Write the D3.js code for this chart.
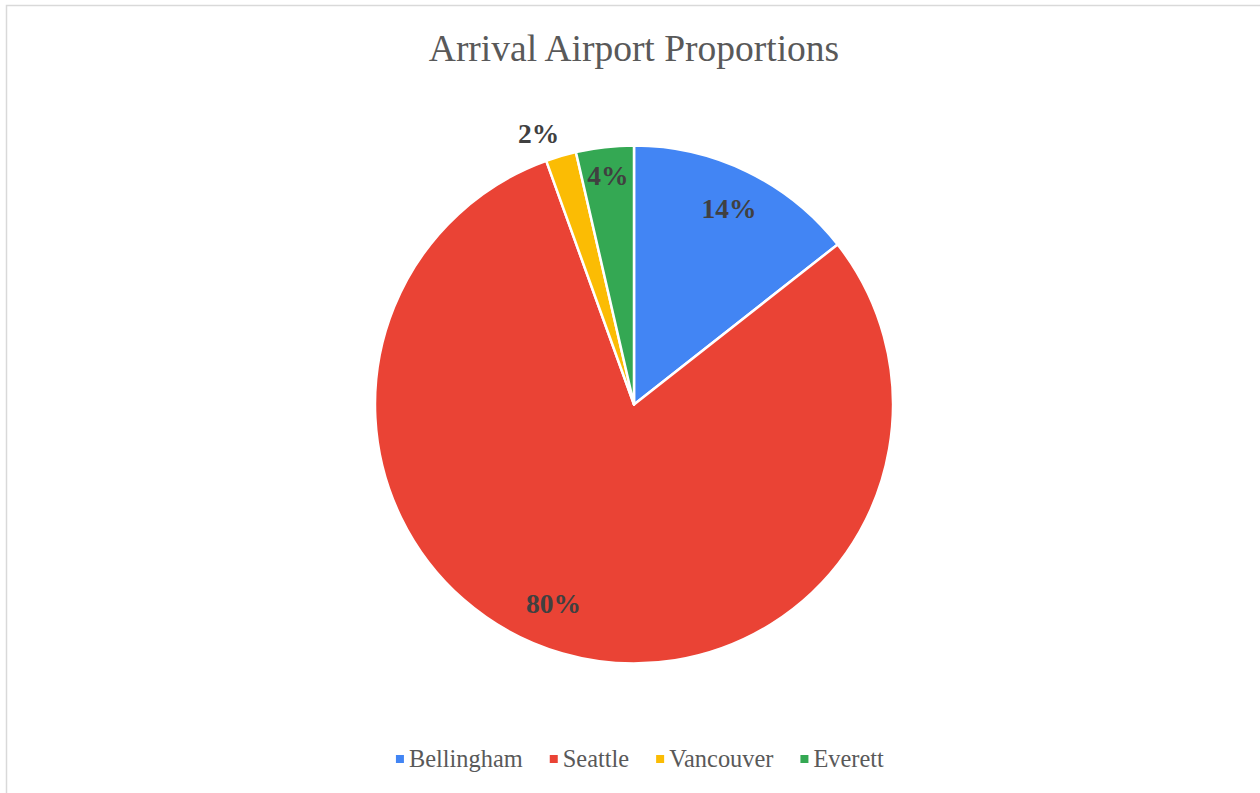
<!DOCTYPE html>
<html>
<head>
<meta charset="utf-8">
<script src="https://cdn.jsdelivr.net/npm/d3@7"></script>
<style>
  html, body { margin: 0; padding: 0; background: #fff; }
  svg { display: block; }
</style>
</head>
<body>
<svg id="chart" width="1260" height="793"></svg>
<script>
// Share of arrivals by airport (percent)
const airports = ["Bellingham", "Seattle", "Vancouver", "Everett"];
const shares = [14.4, 80.1, 1.9, 3.6];
const colors = ["#4285F4", "#EA4335", "#FBBC04", "#34A853"];
const labelText = ["14%", "80%", "2%", "4%"];

const W = 1260, H = 793;
const serif = "'Liberation Serif', 'Times New Roman', Times, serif";
const svg = d3.select("#chart");

// chart area frame
svg.append("rect")
  .attr("x", 6.5).attr("y", 5.5)
  .attr("width", W + 10).attr("height", H + 10)
  .attr("fill", "#fff")
  .attr("stroke", "#d9d9d9").attr("stroke-width", 1.5);

svg.append("text")
  .attr("x", 634).attr("y", 61)
  .attr("text-anchor", "middle")
  .attr("font-family", serif)
  .attr("font-size", 37.5)
  .attr("fill", "#595959")
  .text("Arrival Airport Proportions");

const cx = 634, cy = 404.5, R = 259;
const data = airports.map((name, i) => ({ name, value: shares[i], color: colors[i], label: labelText[i] }));

const pie = d3.pie().value(d => d.value).sort(null);
const arcs = pie(data);
const arc = d3.arc().innerRadius(0).outerRadius(R);

const g = svg.append("g").attr("transform", `translate(${cx},${cy})`);
g.selectAll("path.slice")
  .data(arcs)
  .join("path")
  .attr("class", "slice")
  .attr("d", arc)
  .attr("fill", d => d.data.color)
  .attr("stroke", "#fff")
  .attr("stroke-width", 2.5)
  .attr("stroke-linejoin", "round");

// label placement: radius as fraction of R, small angular nudge (degrees)
const labelRadius = [0.84, 0.83, 1.11, 0.89];
const labelNudge = [0, 6, -3, 0];
g.selectAll("text.val")
  .data(arcs)
  .join("text")
  .attr("class", "val")
  .attr("transform", (d, i) => {
    const a = (d.startAngle + d.endAngle) / 2 + labelNudge[i] * Math.PI / 180;
    const r = R * labelRadius[i];
    return `translate(${r * Math.sin(a)},${-r * Math.cos(a)})`;
  })
  .attr("text-anchor", "middle")
  .attr("dy", "0.35em")
  .attr("font-family", serif)
  .attr("font-weight", "bold")
  .attr("font-size", 27.5)
  .attr("fill", "#404040")
  .text(d => d.data.label);

// legend
const legend = svg.append("g");
const items = legend.selectAll("g.item").data(data).join("g").attr("class", "item");
items.append("rect")
  .attr("width", 8).attr("height", 8)
  .attr("y", -12)
  .attr("fill", d => d.color);
items.append("text")
  .attr("x", 13)
  .attr("font-family", serif)
  .attr("font-size", 24.4)
  .attr("fill", "#595959")
  .text(d => d.name);

const gap = 27;
const widths = items.nodes().map(n => n.getBBox().width);
const total = d3.sum(widths) + gap * (widths.length - 1);
let x = cx + 6 - total / 2;
items.attr("transform", (d, i) => {
  const t = `translate(${x},767)`;
  x += widths[i] + gap;
  return t;
});
</script>
</body>
</html>
